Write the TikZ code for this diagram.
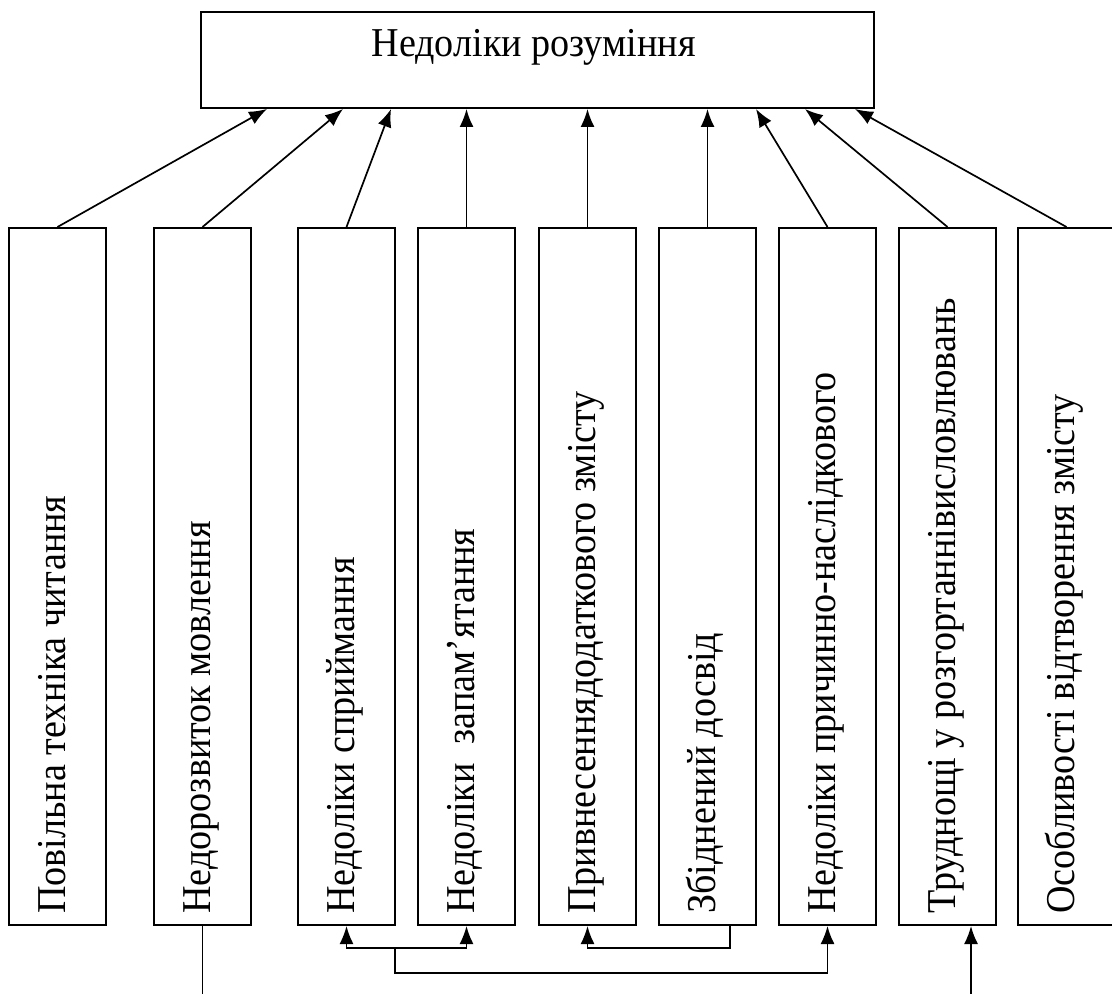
\documentclass[tikz,border=0pt]{standalone}
\usepackage{fontspec}
\setmainfont[FakeStretch=0.93]{Liberation Serif}
\usetikzlibrary{arrows.meta}
\begin{document}
\begin{tikzpicture}[x=0.5pt,y=-0.5pt,
  box/.style={draw,line width=1pt,minimum width=48.5pt,minimum height=348.5pt,inner sep=0pt},
  topbox/.style={draw,line width=1pt,minimum width=336.5pt,minimum height=48pt,inner sep=0pt},
  lbl/.style={rotate=90,anchor=base west,inner sep=0pt,font=\fontsize{20.5}{24}\selectfont},
  ttl/.style={anchor=base,inner sep=0pt,font=\fontsize{20.5}{24}\selectfont},
  arr/.style={line width=0.85pt,-{Latex[length=9pt,width=7pt]}},
  ln/.style={line width=0.85pt}]
\useasboundingbox (0,0) rectangle (1112,994);
% top box
\node[topbox] (top) at (537.5,60) {};
\node[ttl] (title) at ([xshift=-2pt,yshift=-23pt]top.north) {Недоліки розуміння};
% boxes
\node[box] (b1) at (57.5,576.5) {};
\node[box] (b2) at (202.5,576.5) {};
\node[box] (b3) at (346.5,576.5) {};
\node[box] (b4) at (466.5,576.5) {};
\node[box] (b5) at (587.5,576.5) {};
\node[box] (b6) at (707.5,576.5) {};
\node[box] (b7) at (827.5,576.5) {};
\node[box] (b8) at (947.5,576.5) {};
\node[box] (b9) at (1066.5,576.5) {};
% labels
\node[lbl] (l1) at ([xshift=28.5pt,yshift=6pt]b1.south west) {Повільна техніка читання};
\node[lbl] (l2) at ([xshift=28.5pt,yshift=6pt]b2.south west) {Недорозвиток мовлення};
\node[lbl] (l3) at ([xshift=28.5pt,yshift=6pt]b3.south west) {Недоліки сприймання};
\node[lbl] (l4) at ([xshift=28.5pt,yshift=6pt]b4.south west) {Недоліки\ \ запам’ятання};
\node[lbl] (l5) at ([xshift=28.5pt,yshift=6pt]b5.south west) {Привнесеннядодаткового змісту};
\node[lbl] (l6) at ([xshift=28.5pt,yshift=6pt]b6.south west) {Збіднений досвід};
\node[lbl] (l7) at ([xshift=28.5pt,yshift=6pt]b7.south west) {Недоліки причинно-наслідкового};
\node[lbl] (l8) at ([xshift=28.5pt,yshift=6pt]b8.south west) {Труднощі у розгортаннівисловлювань};
\node[lbl] (l9) at ([xshift=28.5pt,yshift=6pt]b9.south west) {Особливості відтворення змісту};
% arrows to top
\draw[arr] (b1.north) -- ([xshift=33.5pt]top.south west);
\draw[arr] (b2.north) -- ([xshift=71.5pt]top.south west);
\draw[arr] (b3.north) -- ([xshift=95.5pt]top.south west);
\draw[arr] (b4.north) -- (b4.north |- top.south);
\draw[arr] (b5.north) -- (b5.north |- top.south);
\draw[arr] (b6.north) -- (b6.north |- top.south);
\draw[arr] (b7.north) -- ([xshift=278pt]top.south west);
\draw[arr] (b8.north) -- ([xshift=302.5pt]top.south west);
\draw[arr] (b9.north) -- ([xshift=327.5pt]top.south west);
% bottom connectors
\coordinate (j1) at (395,948);
\coordinate (j2) at (395,973);
\coordinate (e2) at (202.5,994);
\coordinate (e8) at (971,994);
\draw[ln] (b2.south) -- (e2);
\draw[arr] (e8) -- (e8 |- b8.south);
\draw[arr] (j1) -| (b3.south);
\draw[arr] (j1) -| (b4.south);
\draw[arr] (j1) -- (j2) -| (b7.south);
\draw[arr] ([xshift=11.25pt]b6.south) |- (b5.south |- j1) -- (b5.south);
\end{tikzpicture}
\end{document}
